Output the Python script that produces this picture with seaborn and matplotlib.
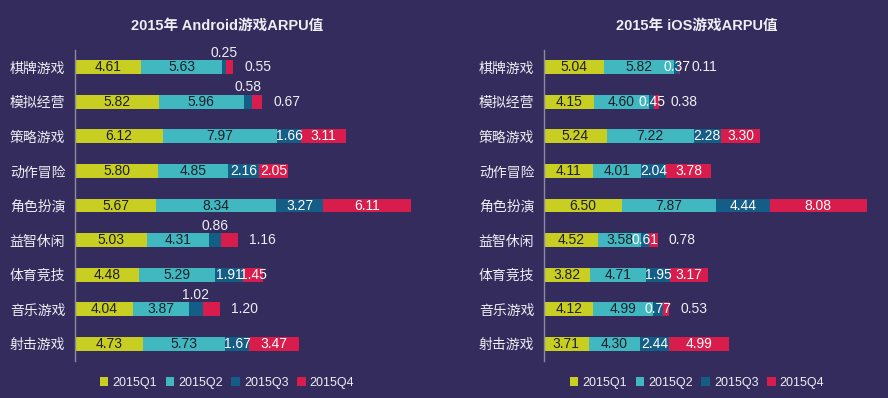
import numpy as np
import pandas as pd
import matplotlib
matplotlib.use("Agg")
import matplotlib.pyplot as plt
from matplotlib.patches import Patch
import seaborn as sns

sns.set_theme(style="white")
plt.rcParams['font.family'] = ['Liberation Sans', 'Noto Sans CJK SC', 'DejaVu Sans']

# data
categories = ["棋牌游戏", "模拟经营", "策略游戏", "动作冒险", "角色扮演",
              "益智休闲", "体育竞技", "音乐游戏", "射击游戏"]
quarters = ["2015Q1", "2015Q2", "2015Q3", "2015Q4"]

android_q1 = [4.61, 5.82, 6.12, 5.80, 5.67, 5.03, 4.48, 4.04, 4.73]
android_q2 = [5.63, 5.96, 7.97, 4.85, 8.34, 4.31, 5.29, 3.87, 5.73]
android_q3 = [0.25, 0.58, 1.66, 2.16, 3.27, 0.86, 1.91, 1.02, 1.67]
android_q4 = [0.55, 0.67, 3.11, 2.05, 6.11, 1.16, 1.45, 1.20, 3.47]

ios_q1 = [5.04, 4.15, 5.24, 4.11, 6.50, 4.52, 3.82, 4.12, 3.71]
ios_q2 = [5.82, 4.60, 7.22, 4.01, 7.87, 3.58, 4.71, 4.99, 4.30]
ios_q3 = [0.37, 0.45, 2.28, 2.04, 4.44, 0.61, 1.95, 0.77, 2.44]
ios_q4 = [0.11, 0.38, 3.30, 3.78, 8.08, 0.78, 3.17, 0.53, 4.99]

bg = "#342c5c"
colors = ["#c9cf22", "#41b8c0", "#135d86", "#d81d4d"]
label_colors = ["#1e1e1e", "#1e1e2a", "#ffffff", "#ffffff"]
text_light = "#eeeef4"

fig = plt.figure(figsize=(8.88, 3.98), dpi=100)
fig.patch.set_facecolor(bg)

ax_a = fig.add_axes([75 / 888, 37 / 398, 355 / 888, 311 / 398])
ax_i = fig.add_axes([544 / 888, 37 / 398, 336 / 888, 311 / 398])


def draw(ax, series, xmax, title, cx, q3_above):
    df = pd.DataFrame(dict(zip(quarters, series)), index=categories)
    cum = df.cumsum(axis=1)
    # draw cumulative totals back to front so the stack shows
    for j in range(len(quarters) - 1, -1, -1):
        sns.barplot(x=cum[quarters[j]].values, y=categories, orient="h",
                    color=colors[j], width=0.405, linewidth=0,
                    saturation=1, ax=ax)
    for i, cat in enumerate(categories):
        for j, q in enumerate(quarters):
            v = df.loc[cat, q]
            end = cum.loc[cat, q]
            mid = end - v / 2
            s = f"{v:.2f}"
            if j == 3 and v < 1.3:
                ax.annotate(s, (end, i), xytext=(8, 0),
                            textcoords="offset points", ha="left",
                            va="center", fontsize=10, color=text_light)
            elif j == 2 and q3_above and v < 1.1:
                ax.text(mid, i - 0.42, s, ha="center", va="center",
                        fontsize=10, color=text_light)
            else:
                ax.text(mid, i, s, ha="center", va="center",
                        fontsize=10, color=label_colors[j])
    ax.set_facecolor(bg)
    ax.set_xlim(0, xmax)
    ax.set_ylim(8.5, -0.5)
    ax.set_xlabel("")
    ax.set_ylabel("")
    ax.set_xticks([])
    for side in ["top", "right", "bottom"]:
        ax.spines[side].set_visible(False)
    ax.spines["left"].set_color("#8a8aa0")
    ax.spines["left"].set_linewidth(1)
    ax.set_yticks(range(len(categories)))
    ax.set_yticklabels(categories, fontsize=10, color=text_light,
                       family=["Noto Sans CJK SC", "DejaVu Sans"])
    ax.tick_params(axis="y", which="major", length=0, pad=7)
    ax.set_yticks(np.arange(-0.5, len(categories), 1), minor=True)
    ax.tick_params(axis="y", which="minor", length=5, color="#8a8aa0",
                   direction="out", width=1)
    fig.text(cx / 888, 1 - 26 / 398, title, ha="center", va="center",
             fontsize=10.5, fontweight="bold", color=text_light,
             family=["Liberation Sans", "Noto Sans CJK SC"])
    handles = [Patch(facecolor=c, edgecolor="none", label=q)
               for c, q in zip(colors, quarters)]
    fig.legend(handles=handles, loc="center", ncol=4,
               bbox_to_anchor=(cx / 888, 15 / 398), frameon=False,
               fontsize=9, labelcolor=text_light, handlelength=0.7,
               handleheight=0.7, handletextpad=0.3, columnspacing=0.7)


draw(ax_a, [android_q1, android_q2, android_q3, android_q4], 355 / 14.35,
     "2015年 Android游戏ARPU值", 227, True)
draw(ax_i, [ios_q1, ios_q2, ios_q3, ios_q4], 28.0,
     "2015年 iOS游戏ARPU值", 697, False)

fig.savefig("out.png", dpi=100, facecolor=bg)
